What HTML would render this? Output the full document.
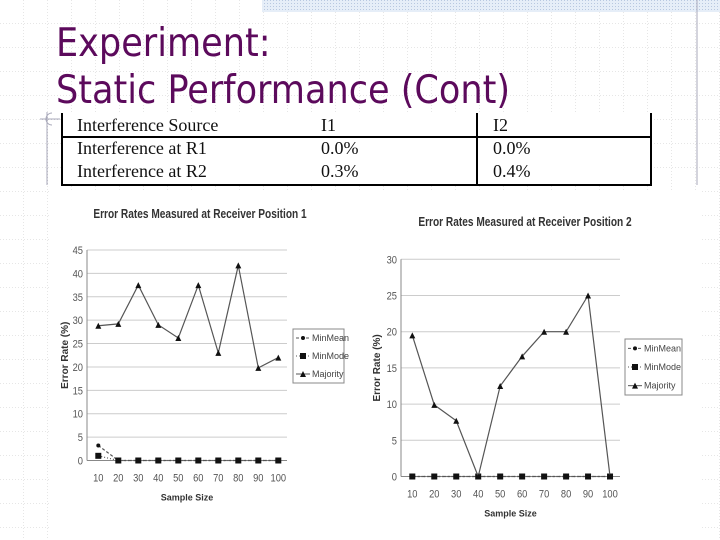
<!DOCTYPE html>
<html><head><meta charset="utf-8"><style>
body{margin:0;width:720px;height:540px;overflow:hidden;background:#fff;font-family:"Liberation Sans",sans-serif;}
</style></head><body>
<svg id="s" width="720" height="540" xmlns="http://www.w3.org/2000/svg" style="position:absolute;left:0;top:0">
<defs>
<pattern id="grid" width="24" height="24" patternUnits="userSpaceOnUse"><path d="M24 0V24M0 24H24" stroke="#ccc" stroke-width="1" stroke-dasharray="1,2" fill="none"/></pattern>
<pattern id="hatch" width="3" height="3" patternUnits="userSpaceOnUse"><rect width="3" height="3" fill="#e6eef8"/><rect width="1" height="1" fill="#b8c8e0"/></pattern>
</defs>
<rect width="720" height="540" fill="url(#grid)"/>
<rect x="262" y="0" width="458" height="12" fill="url(#hatch)"/>
<line x1="697" y1="0" x2="697" y2="185" stroke="#aab"/>
<line x1="47" y1="112" x2="47" y2="185" stroke="#aab"/>
<path d="M52 113 A6 6 0 0 0 52 125 M40 119 H60" stroke="#aab" fill="none"/>
<text x="56" y="56" font-size="39" fill="#5c0a5c" font-family="DejaVu Sans Condensed, Liberation Sans, sans-serif">Experiment:</text>
<text x="56" y="103" font-size="39" fill="#5c0a5c" font-family="DejaVu Sans Condensed, Liberation Sans, sans-serif">Static Performance (Cont)</text>
<g font-family="Liberation Serif, serif" font-size="18" fill="#111">
<rect x="62" y="113" width="589" height="72" fill="#fff"/>
<path d="M62 113V185H651V113M62 137H651M477 113V185" stroke="#000" stroke-width="2" fill="none"/>
<text x="77" y="131">Interference Source</text><text x="321" y="131">I1</text><text x="493" y="131">I2</text>
<text x="77" y="154">Interference at R1</text><text x="321" y="154">0.0%</text><text x="493" y="154">0.0%</text>
<text x="77" y="177">Interference at R2</text><text x="321" y="177">0.3%</text><text x="493" y="177">0.4%</text>
</g>
<rect x="50" y="190" width="650" height="350" fill="#fff"/>
<g id="c1"></g><g id="c2"></g>
</svg>
<script>
const categories=[10,20,30,40,50,60,70,80,90,100];
const c1Majority=[28.8,29.2,37.5,29,26.2,37.5,23,41.7,19.8,22];
const c1MinMean=[3.2,0,0,0,0,0,0,0,0,0];
const c1MinMode=[1,0,0,0,0,0,0,0,0,0];
const c1Ticks=[0,5,10,15,20,25,30,35,40,45];
const c2Majority=[19.5,9.9,7.7,0,12.5,16.6,20,20,25,0];
const c2MinMean=[0,0,0,0,0,0,0,0,0,0];
const c2MinMode=[0,0,0,0,0,0,0,0,0,0];
const c2Ticks=[0,5,10,15,20,25,30];
const NS="http://www.w3.org/2000/svg";
function mk(p,t,a){const e=document.createElementNS(NS,t);for(const k in a)e.setAttribute(k,a[k]);p.appendChild(e);return e;}
function chart(g,o){
 const ymax=o.ticks[o.ticks.length-1];
 const Y=v=>o.y0-(v/ymax)*(o.y0-o.y1);
 const X=i=>o.xs+i*o.dx;
 o.ticks.forEach(t=>{
  const l=mk(g,'line',{x1:o.x0,x2:o.x2,y1:Y(t),y2:Y(t),stroke:t?'#ccc':'#888'});
  
  
  const tx=mk(g,'text',{x:o.x0-4,y:Y(t)+4,'font-size':11,'text-anchor':'end',fill:'#555',transform:`translate(${(o.x0-4)*0.15},0) scale(0.85,1)`});tx.textContent=t;
  
  
 });
 mk(g,'line',{x1:o.x0,x2:o.x0,y1:o.y1,y2:o.y0,stroke:'#888'});
 categories.forEach((c,i)=>{const tx=mk(g,'text',{x:X(i),y:o.y0+21,'font-size':11,'text-anchor':'middle',fill:'#555',transform:`translate(${X(i)*0.15},0) scale(0.85,1)`});tx.textContent=c;
  
  });
 const series=[[o.mean,'3,2','mean'],[o.mode,'1,2','mode'],[o.maj,'','majority']];
 series.forEach(([d,da,n])=>{
  const p=mk(g,'polyline',{points:d.map((v,i)=>X(i)+','+Y(v)).join(' '),fill:'none',stroke:'#555','stroke-width':1.2,'stroke-dasharray':da});
  
  
  d.forEach((v,i)=>{let m;
   if(n=='majority')m=mk(g,'path',{d:`M${X(i)-3} ${Y(v)+3}L${X(i)} ${Y(v)-3}L${X(i)+3} ${Y(v)+3}Z`,fill:'#111'});
   else if(n=='mode')m=mk(g,'rect',{x:X(i)-3,y:Y(v)-3,width:6,height:6,fill:'#111'});
   else m=mk(g,'circle',{cx:X(i),cy:Y(v),r:2,fill:'#111'});
   
   });
 });
 const t=mk(g,'text',{x:o.tx,y:o.ty,'font-size':13,'font-weight':'bold','text-anchor':'middle',fill:'#333',transform:`translate(${o.tx*0.22},0) scale(0.78,1)`});t.textContent=o.title;
 
 
 const xt=mk(g,'text',{x:(o.x0+o.x2)/2,y:o.y0+40,'font-size':9,'font-weight':'bold','text-anchor':'middle',fill:'#333'});xt.textContent='Sample Size';
 
 
 const yt=mk(g,'text',{x:0,y:0,'font-size':10,'font-weight':'bold','text-anchor':'middle',fill:'#333',transform:`translate(${o.ytx},${(o.y0+o.y1)/2}) rotate(-90)`});yt.textContent='Error Rate (%)';
 
 
 const lg=mk(g,'g',{});
 
 
 mk(lg,'rect',{x:o.lx,y:o.ly,width:o.lw,height:o.lh,fill:'#fff',stroke:'#888'});
 ['MinMean','MinMode','Majority'].forEach((s,i)=>{const yy=o.ly+o.lh*(i+0.5)/3;
  mk(lg,'line',{x1:o.lx+3,x2:o.lx+17,y1:yy,y2:yy,stroke:'#555','stroke-dasharray':series[i][1]});
  const x=o.lx+10;
  if(i==2)mk(lg,'path',{d:`M${x-3} ${yy+3}L${x} ${yy-3}L${x+3} ${yy+3}Z`,fill:'#111'});
  else if(i==1)mk(lg,'rect',{x:x-3,y:yy-3,width:6,height:6,fill:'#111'});
  else mk(lg,'circle',{cx:x,cy:yy,r:2,fill:'#111'});
  const tx=mk(lg,'text',{x:o.lx+19,y:yy+3,'font-size':9,fill:'#444'});tx.textContent=s;});
}
chart(document.getElementById('c1'),{x0:87,x2:287,y0:460.5,y1:250,xs:98.3,dx:20,ticks:c1Ticks,maj:c1Majority,mean:c1MinMean,mode:c1MinMode,title:'Error Rates Measured at Receiver Position 1',tx:200,ty:218,ytx:68,lx:293,ly:329,lw:51,lh:54});
chart(document.getElementById('c2'),{x0:401,x2:620,y0:476.5,y1:259.3,xs:412.3,dx:21.97,ticks:c2Ticks,maj:c2Majority,mean:c2MinMean,mode:c2MinMode,title:'Error Rates Measured at Receiver Position 2',tx:525,ty:226,ytx:380,lx:625,ly:339,lw:57,lh:56});
</script>
</body></html>
